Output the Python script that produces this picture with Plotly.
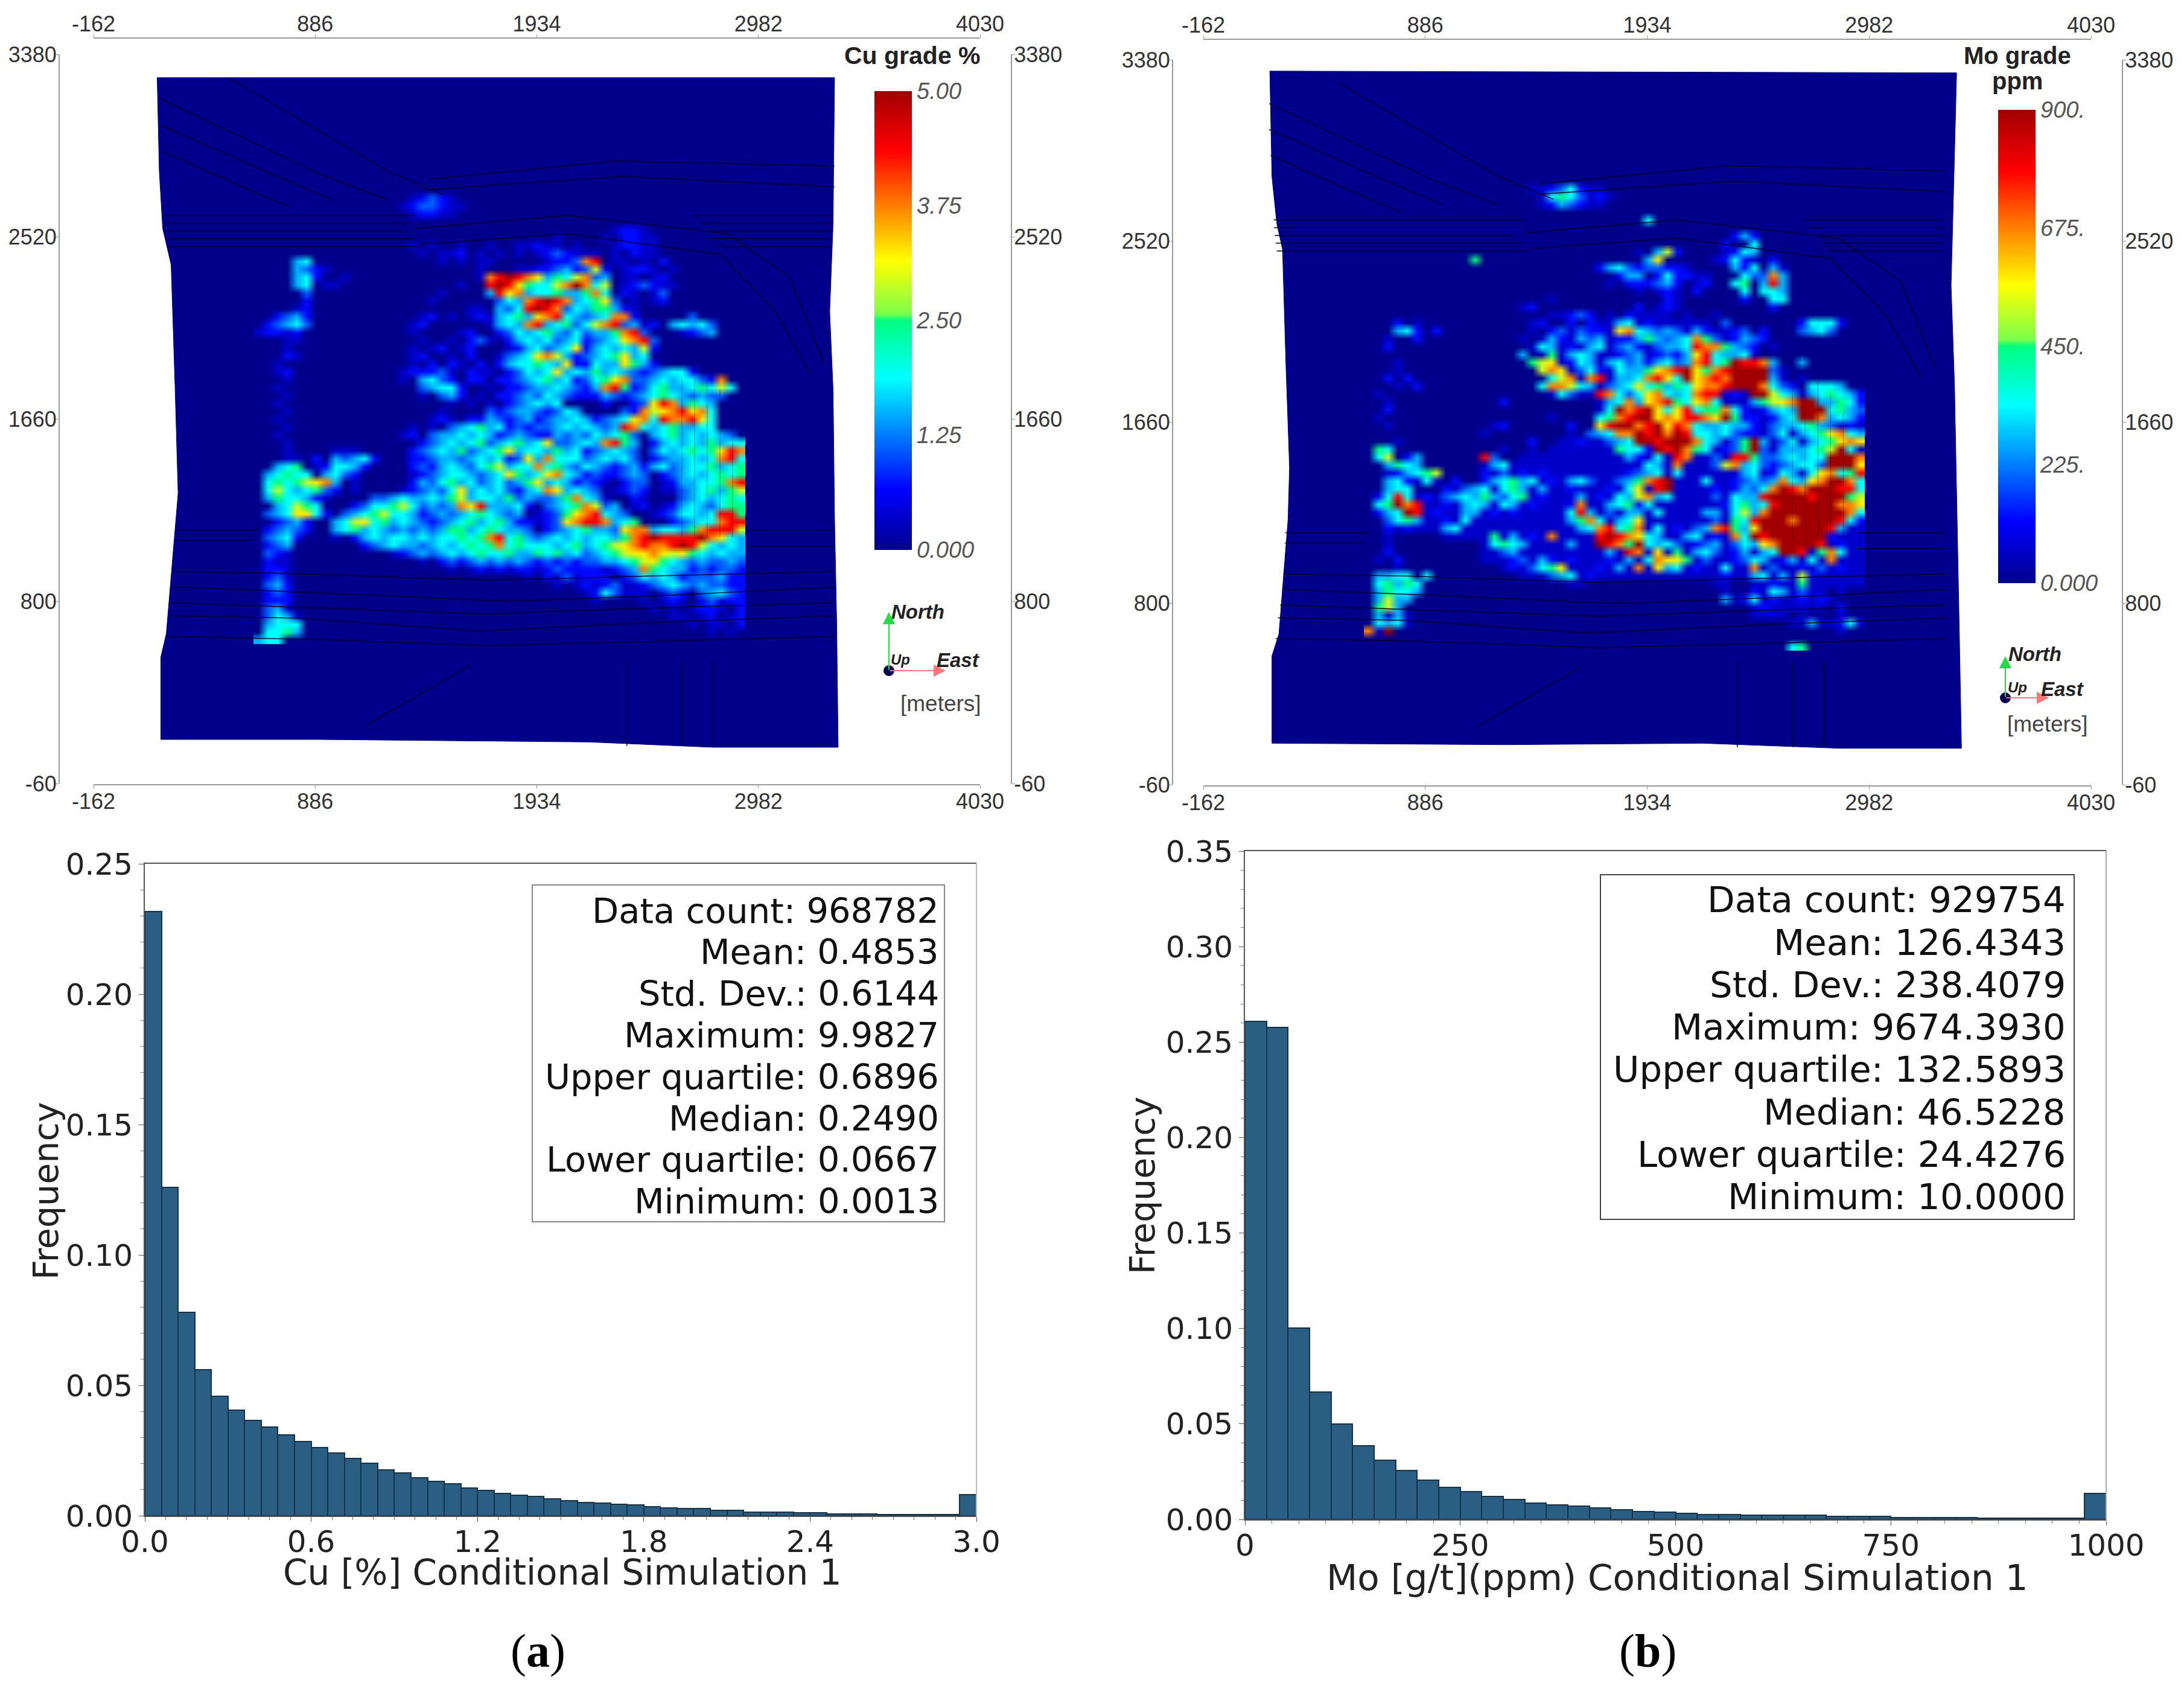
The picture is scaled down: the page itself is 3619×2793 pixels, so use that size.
import plotly.graph_objects as go

W, H = 3619, 2793
PAGE_MARGIN = 8  # the page body sits 8px in from the window corner

# ---- values ----
MAP_X_TICKS = [-162, 886, 1934, 2982, 4030]
MAP_X_LABELS = ["-162", "886", "1934", "2982", "4030"]
MAP_Y_TICKS = [-60, 800, 1660, 2520, 3380]
MAP_Y_LABELS = ["-60", "800", "1660", "2520", "3380"]

CU_OUTLINE_X = [139, 149, 165, 205, 224, 238, 215, 182, 156, 156, 902, 2180, 2769, 3359, 3352, 3342, 3335, 3319, 3335, 3342]
CU_OUTLINE_Y = [3270, 2828, 2559, 2387, 1798, 1308, 1038, 646, 536, 148, 148, 136, 111, 111, 695, 1185, 1798, 2166, 2583, 3270]
MO_OUTLINE_X = [152, 162, 185, 212, 228, 245, 238, 195, 162, 162, 1270, 2195, 2840, 3418, 3408, 3395, 3385, 3369, 3395]
MO_OUTLINE_Y = [3326, 2825, 2603, 2480, 1937, 1444, 1198, 655, 551, 137, 130, 137, 113, 113, 655, 1321, 1839, 2307, 3318]

# bench contours of the pit, None separates the lines
BENCH_X = [149, 935, 1230, None, 149, 706, 968, None, 477, 1230, 1492, None, 156, 542, 771, None,
           170, 1361, None, 172, 1330, None, 175, 1300, None, 180, 1350, None, 185, 1380, None,
           2671, 3335, None, 2700, 3335, None, 2740, 3335, None, 2760, 3330, None, 2790, 3330, None,
           1426, 2311, 3342, None, 1426, 2344, 3342, None,
           1361, 2081, 2835, 3130, 3293, None, 1394, 2081, 2802, 3064, 3228, None,
           225, 620, None, 222, 600, None, 2930, 3340, None, 2930, 3340, None,
           215, 800, 1700, 2500, 3340, None, 210, 900, 1800, 2600, 3345, None,
           200, 850, 1700, 2550, 3345, None, 190, 800, 1650, 2500, 3350, None, 180, 900, 1700, 2450, 3350, None,
           2360, 2360, None, 2622, 2622, None, 2769, 2769, None, 1132, 1623]
BENCH_Y = [3172, 2804, 2693, None, 3049, 2804, 2693, None, 3270, 2828, 2718, None, 2926, 2755, 2657, None,
           2620, 2620, None, 2583, 2583, None, 2546, 2546, None, 2510, 2510, None, 2473, 2473, None,
           2620, 2620, None, 2583, 2583, None, 2546, 2546, None, 2510, 2510, None, 2473, 2473, None,
           2791, 2877, 2853, None, 2742, 2804, 2755, None,
           2559, 2620, 2534, 2330, 1921, None, 2485, 2534, 2436, 2166, 1872, None,
           1136, 1136, None, 1087, 1087, None, 1136, 1136, None, 1060, 1060, None,
           940, 930, 900, 920, 940, None, 867, 840, 800, 830, 867, None,
           793, 770, 740, 770, 793, None, 732, 720, 660, 700, 732, None, 634, 620, 590, 610, 634, None,
           523, 118, None, 523, 118, None, 523, 118, None, 217, 499]
# faint vertical drill-fence lines over the eastern block
FENCE_X = [2620, 2620, None, 2680, 2680, None, 2740, 2740, None, 2800, 2800, None, 2860, 2860]
FENCE_Y = [1850, 1100, None, 1850, 1100, None, 1850, 1100, None, 1800, 1100, None, 1700, 1100]

# grade class per cell, read cell by cell from the two maps ('.' = background grade)
GRADE_CLASSES = {".": 0.0, "0": 0.07, "1": 0.14, "2": 0.22, "3": 0.30, "4": 0.38, "5": 0.50,
                 "6": 0.58, "7": 0.65, "8": 0.75, "9": 0.87, "X": 1.0}

CU_ROWS = [
    "",
    ".... .... .... .... 0121 0...",
    ".... .... .... ...0 1221 00..",
    ".... .... .... .... 0110 0...",
    "",
    ".... .... .... .... .... .... .... .... .... .011 0...",
    ".... .... .... .... .... .... .... ...0 .... 0.11 00..",
    ".... .... .... .... 0.0. .0.. 0..0 0100 .0.. .011 00.. .... ....",
    ".... .... .... .... .0.0 01.0 .0.0 .012 1000 .0.1 00.. .... ....",
    ".... 34.. .... .... ...0 .0.0 0... ..01 1289 .00. 0.1. .... ....",
    ".... 3210 .... .... .... ...0 ...0 0112 3126 1.01 10.0 .... ....",
    ".... 341. .0.. .... .... ...0 89X9 8735 4682 3.00 .01. .... ....",
    ".... 34.0 0... .... .... .0.. 9X97 5446 8X84 6.01 2100 .... ....",
    ".... .2.. .... .... ...0 .... 3978 3445 3358 4.10 .02. .... ....",
    ".... .1.. .... .... ..0. .... .243 89X9 8345 72.0 .01. .... ....",
    ".... 01.. .... .... .... ..00 .324 9X98 2435 5310 .... .... ....",
    "..12 31.. .... .... .01. 0.01 0345 3789 4323 4881 .... .2.. ....",
    ".123 42.. .... .... 01.. .... 0343 8934 5246 8923 01.3 4342 ....",
    "0110 1... .... .... 0... .01. .124 3453 2423 3589 2... 0123 ....",
    "...0 0... .... .... .0.. 0.12 0.13 4342 3412 3478 92.. .... ....",
    "...0 .... .... .... 0.01 .01. ..01 3423 4713 4343 61.. .... ....",
    "...1 0... .... .... 01.. 0.1. .023 4786 3123 4573 4... .... ....",
    "..0. .... .... .... 0.1. 10.1 .134 4543 7114 3375 31.. .... ....",
    "..01 .... .... ...0 1112 0.10 0.12 4347 3435 3432 1234 41.. ....",
    "...0 .... .... ...0 .342 1.11 .112 3453 4124 5782 2343 4421 8...",
    "..0. .... .... .... .234 41.. 0.11 2334 3213 8951 2453 3454 64..",
    "...0 .... .... .... .0.2 31.0 .112 3243 2111 3212 3454 3232 2...",
    "..0. .... .... .... .... 0.0. 0.12 3434 .... 1..1 2798 3543 ....",
    "...0 .... .... .... ...0 .... 2123 3212 43.. ..21 8678 9784 ....",
    "..0. .... .... .... ..01 0.11 3212 3123 3431 2347 8498 8974 ....",
    "...0 .... .... .... 0.0. 2345 3412 1223 4343 2398 4345 3344 ....",
    "..0. .... .... ...0 1.23 3434 3123 2113 2324 3452 .345 3434 32..",
    "...0 .... .... .... .123 4345 2345 3472 2343 8953 .134 3435 3445",
    "...0 .... 000. .... 1234 3523 4573 4435 3412 3432 .243 4545 7989",
    "...0 0.1. 3234 1... 1123 3234 3412 7384 4423 4342 .123 3434 8945",
    "..34 5.01 4431 .... 1213 4324 5634 4845 3243 2123 1342 3445 3456",
    ".345 44.3 421. .... 0123 4432 3475 3478 4312 1123 2.12 3434 5456",
    ".454 5678 3.0. .... 1324 5342 3423 5734 3121 0.12 2.01 3344 5899",
    ".464 3452 1.0. ...0 1232 4734 3421 3487 3432 .012 1.00 2345 3566",
    ".354 4310 .... 2234 3343 5634 4352 3223 5843 0..1 0... 2343 4546",
    "..34 654. ..12 4456 4232 3879 3334 1.23 4586 23.0 1.01 3432 4556",
    ".234 7741 .234 5644 3123 2345 4323 .012 5789 432. .012 4434 9956",
    "..12 31.. 3467 4534 3212 3453 4531 1012 7899 8345 ...1 2344 8996",
    ".123 21.. 3453 4323 2323 5534 5433 2.12 3453 3278 8344 3589 9965",
    ".234 1... 0.13 4344 3434 4545 8945 3234 3434 4358 9X99 99X8 7434",
    ".123 .... ...1 2343 3234 3454 5845 4443 4534 5678 9889 X964 3434",
    ".210 .... .... ..01 2323 4345 4453 3545 3423 4567 7876 7543 4332",
    ".100 .... .... .... .0.1 2123 2323 2121 2122 3345 6754 3232 2321",
    ".110 .... .... .... .... 0.01 0101 1012 1111 0123 8543 3121 2210",
    ".120 .... .... .... .... .... .... 0.10 2011 1.12 4343 1222 3110",
    ".231 .... .... .... .... .... .... ...0 .010 1200 1234 3232 2110",
    ".121 .... .... .... .... .... .... .... ..01 4200 0.12 1.23 4210",
    ".111 .... .... .... .... .... .... .... ...0 .... 0.01 0.12 0110",
    ".230 .... .... .... .... .... .... .... .... .... .0.0 .011 0.10",
    ".243 0... .... .... .... .... .... .... .... .... ...0 0.01 .010",
    ".344 4... .... .... .... .... .... .... .... .... .... .0.0 0.10",
    ".445 3... .... .... .... .... .... .... .... .... .... ...0 .0.0",
    "344.",
]

MO_ROWS = [
    "",
    ".... .... .... .... .001 2410 0...",
    ".... .... .... .... ..04 5420 10..",
    ".... .... .... .... ..01 3210 0...",
    "",
    ".... .... .... .... .... .... .... .4..",
    "",
    ".... .... .... .... .... .... .... .... .... ..13 1...",
    ".... .... .... .... .... .... .... .... .... .1.. 4...",
    ".... .... .... .... .... .... .... 0.36 1... .014 3...",
    ".... .... ...5 .... .... .... .... .37. .... 0141 0.1.",
    ".... .... .... .... .... .... 1342 1221 10.. ..31 4.30",
    ".... .... .... .... .... .... ..13 3.14 1100 ...4 2283 .... ....",
    ".... .... .... .... .... .... .0.1 1123 1.01 ..45 .393 .... ....",
    ".... .... .... .... .... .... .... 0.01 0.1. ...4 .443 .... ....",
    ".... .... .... .... ...0 .... .... ...1 0... ...1 ..44 .... ....",
    ".... .... .... .... 01.. .... .... 1.01 0... .... ..1. .... ....",
    ".... .... .... .... ...0 0121 .0.1 0000 .0.. 0... .... .... ....",
    "...1 .0.. .... .... .01. .1.1 0034 0100 0000 .2.. .... .144 41..",
    "...3 41.1 .... .... .0.1 2021 1078 4323 2031 0012 .1.. .234 2...",
    "..0. .1.. .... .... 0.03 1032 3011 3532 3485 2013 21.. .... ....",
    "..1. .... .... .... .043 0103 4023 1023 3498 8532 1.0. .... ....",
    ".... .... .... .... 3.05 0343 0012 3012 1379 4334 0... .... ....",
    "...0 .... .... .... .567 0143 0342 3134 2389 45X9 983. .3.. ....",
    "...0 .... .... .... ..68 7024 1043 3578 9X75 89XX XX20 .... ....",
    "..1. 1... .... .... ...4 6808 9033 4897 4X78 98XX XX30 .0.. ....",
    "...0 .1.. .... .... ..48 8643 0234 7453 5478 89XX X842 1.44 43..",
    ".0.. .... .... .... ...0 4200 9842 4784 3489 9010 XX64 3034 5431",
    "..0. .... .... ..1. .... .... 0348 3789 5478 4000 3567 8XX3 3541",
    "..1. .... .... .... .... .... 04X8 9X74 7945 5841 0134 3XXX 4532",
    ".0.. .... .... .... ...0 .... 4589 XX78 7998 7X51 1013 4XX8 3431",
    "..0. .... .... .01. .... .1.. 79XX 89X7 9843 3433 1023 3453 2010",
    ".... .... .... 0... .... .0.2 3488 X9X8 X944 3421 1024 0345 7843",
    "...0 .... .... .... .1.. 0010 0234 XX9X XX84 3025 X302 4034 5787",
    ".54. .... .... ..0. .0.0 0000 0054 41X9 X854 0125 X203 3345 6X40",
    ".46. 13.. .... 92.. 0000 0000 0003 1040 9800 2099 5223 4344 XXX8",
    "..35 43.. .... 0340 0000 0000 0000 0430 8000 2683 4212 3442 XXX7",
    "..01 3456 .... 1020 1010 0000 0001 2340 4000 0003 4014 3047 8459",
    "..34 1040 .1.. 1345 3401 0342 0023 589X 0004 0012 3238 4378 XX84",
    "..34 4... 1023 4045 3030 0100 0104 709X 0000 1013 248X 98XX X994",
    ".149 4010 2343 5324 5010 0030 1043 6834 0000 2043 39XX XX9X XX56",
    ".45X 8900 1034 3043 0100 0180 0345 1400 0000 0145 349X XXXX X887",
    ".134 X901 0033 0101 0000 0493 0203 3040 0003 3046 38XX XXXX XX84",
    "..24 5300 1040 0000 0000 0358 4034 7000 0000 2054 9XXX 8XXX X941",
    "..10 1000 3400 0000 0000 0034 8945 8040 1023 8953 7XXX XXXX 9300",
    "..0. .... 0000 0503 0108 0000 9X98 7430 0340 1084 X9XX XXXX 1000",
    "..0. .... .... 0454 3000 0300 X985 X434 2012 3024 378X XXX9 0100",
    "..1. .... .... 0023 0000 0000 0309 8070 5034 2013 034X X905 8400",
    ".0.1 .... .... 0001 2031 0100 0103 0487 7502 0012 4301 3040 8000",
    "...0 .... .... ..01 0245 7000 1030 8073 4010 0400 8020 0102 0100",
    ".334 4.4. .... .... 0002 3401 0000 0000 0000 0100 3403 0610 0000",
    ".453 54.. .... .... .... .00. .... .... .... 00.. 0010 0500 0000",
    ".354 43.. .... .... .... .... .... .... .... .0.. 1043 0200 .0..",
    ".363 3... .... .... .... .... .... .... .... .301 4010 0101 0...",
    ".563 .... .... .... .... .... .... .... .... .... 0100 0000 .1..",
    ".303 0... .... .... .... .... .... .... .... .... 0000 .0.. .0..",
    ".434 0... .... .... .... .... .... .... .... .... .... 0030 0140",
    "80X. .... .... .... .... .... .... .... .... .... .... .... .0..",
    "",
    ".... .... .... .... .... .... .... .... .... .... .... 45..",
]

CU_BARS = [0.2318, 0.126, 0.078, 0.056, 0.0458, 0.0404, 0.0365, 0.034, 0.031, 0.0285,
           0.0262, 0.0241, 0.0219, 0.0202, 0.0177, 0.0165, 0.0146, 0.0132, 0.0122, 0.0107,
           0.0097, 0.0085, 0.0079, 0.0073, 0.0065, 0.0059, 0.0052, 0.0048, 0.0043, 0.0041,
           0.0034, 0.003, 0.0027, 0.0027, 0.0022, 0.002, 0.0015, 0.0015, 0.0015, 0.0011,
           0.0011, 0.0007, 0.0007, 0.0007, 0.0004, 0.0004, 0.0004, 0.0004, 0.0004, 0.0081]
MO_BARS = [0.2608, 0.2577, 0.1002, 0.0666, 0.05, 0.0387, 0.031, 0.0257, 0.0206, 0.0169,
           0.0144, 0.0119, 0.0104, 0.0085, 0.0076, 0.0068, 0.0059, 0.0051, 0.0042, 0.0037,
           0.0032, 0.0026, 0.0026, 0.0023, 0.0021, 0.0021, 0.0021, 0.0016, 0.0016, 0.0016,
           0.0011, 0.0011, 0.0011, 0.0011, 0.0005, 0.0005, 0.0005, 0.0005, 0.0005, 0.0135]

STAT_NAMES = ["Data count", "Mean", "Std. Dev.", "Maximum", "Upper quartile", "Median", "Lower quartile", "Minimum"]
CU_STATS = ["968782", "0.4853", "0.6144", "9.9827", "0.6896", "0.2490", "0.0667", "0.0013"]
MO_STATS = ["929754", "126.4343", "238.4079", "9674.3930", "132.5893", "46.5228", "24.4276", "10.0000"]

JET = [[0, "#00008b"], [0.13, "#0000ff"], [0.375, "#00ffff"], [0.5, "#00ff7f"], [0.515, "#7dff4a"],
       [0.63, "#ffff00"], [0.87, "#ff0000"], [1, "#a00000"]]

NAVY = "#00008b"
BAR_BLUE = "#2a5e83"
TICK_GREY = "#333333"


def fx(px):
    return (px - PAGE_MARGIN) / W


def fy(py):
    return 1 - (py - PAGE_MARGIN) / H


def grid(rows, scale, ncols):
    out = []
    for r in rows:
        r = r.replace(" ", "").ljust(ncols, ".")[:ncols]
        out.append([GRADE_CLASSES[c] * scale for c in r])
    return out


def add_map(fig, n, rows, ncols, zmax, x0, dx, y0, dy, ox, oy, cb_left, cb_top, cb_len, cb_labels):
    xa, ya = f"x{n}" if n > 1 else "x", f"y{n}" if n > 1 else "y"
    # the navy footprint goes in as a shape, a filled scatter would cover the heatmap
    path = "M " + " L ".join(f"{a} {b}" for a, b in zip(ox, oy)) + " Z"
    fig.add_shape(type="path", path=path, xref=xa, yref=ya, layer="below", fillcolor=NAVY,
                  line=dict(color=NAVY, width=1))
    fig.add_trace(go.Heatmap(
        z=grid(rows, zmax, ncols), x0=x0, dx=dx, y0=y0, dy=dy, zmin=0, zmax=zmax, colorscale=JET,
        xaxis=xa, yaxis=ya, zsmooth="fast",
        colorbar=dict(x=fx(cb_left), xanchor="left", y=fy(cb_top), yanchor="top",
                      xref="paper", yref="paper",
                      lenmode="pixels", len=cb_len, thicknessmode="pixels", thickness=62,
                      outlinewidth=0, xpad=0, ypad=0, ticks="",
                      tickvals=[zmax * i / 4 for i in range(5)], ticktext=cb_labels,
                      tickfont=dict(family="Liberation Sans", size=38, color="#555555", style="italic"))))
    fig.add_trace(go.Scatter(x=BENCH_X, y=BENCH_Y, mode="lines", line=dict(color="#000022", width=1.5),
                             xaxis=xa, yaxis=ya, showlegend=False, connectgaps=False))
    fig.add_trace(go.Scatter(x=FENCE_X, y=FENCE_Y, mode="lines", line=dict(color="rgba(0,0,40,0.35)", width=1),
                             xaxis=xa, yaxis=ya, showlegend=False, connectgaps=False))


fig = go.Figure()

add_map(fig, 1, CU_ROWS, 51, 5, 617, 45.6, 2738, -37.2, CU_OUTLINE_X, CU_OUTLINE_Y, 1449, 151, 760,
        ["0.000", "1.25", "2.50", "3.75", "5.00"])
add_map(fig, 3, MO_ROWS, 52, 900, 619, 45.5, 2806, -37.46, MO_OUTLINE_X, MO_OUTLINE_Y, 3311, 182, 784,
        ["0.000", "225.", "450.", "675.", "900."])

# empty traces so the top and right axes of the maps get drawn
fig.add_trace(go.Scatter(x=[], y=[], xaxis="x2", yaxis="y2", showlegend=False))
fig.add_trace(go.Scatter(x=[], y=[], xaxis="x4", yaxis="y4", showlegend=False))

fig.add_trace(go.Bar(x=[(i + 0.5) * 0.06 for i in range(len(CU_BARS))], y=CU_BARS, width=0.06,
                     marker=dict(color=BAR_BLUE, line=dict(color="#14324a", width=2)),
                     xaxis="x5", yaxis="y5", showlegend=False))
fig.add_trace(go.Bar(x=[(i + 0.5) * 25 for i in range(len(MO_BARS))], y=MO_BARS, width=25,
                     marker=dict(color=BAR_BLUE, line=dict(color="#14324a", width=2)),
                     xaxis="x6", yaxis="y6", showlegend=False))


def map_axis(domain, rng, tickvals, ticktext, **kw):
    return dict(domain=domain, range=rng, tickmode="array", tickvals=tickvals, ticktext=ticktext, showgrid=False,
                zeroline=False, showline=True, linecolor="#999999", linewidth=2, ticks="outside",
                ticklen=5, tickcolor="#999999", ticklabelstandoff=-9,
                tickfont=dict(family="Liberation Sans", size=36, color=TICK_GREY), anchor="free", **kw)


def hist_axis(domain, rng, dtick, fmt, minor, anchor, **kw):
    return dict(domain=domain, range=rng, dtick=dtick, tick0=0, tickformat=fmt, showgrid=False, zeroline=False,
                showline=True, linecolor="#555555", linewidth=2, ticks="outside", ticklen=8,
                tickcolor="#555555", minor=dict(dtick=minor, ticks="outside", ticklen=5, tickcolor="#777777"),
                tickfont=dict(family="DejaVu Sans", size=50, color="#222222"),
                anchor=anchor, **kw)


XD1, YD1 = [fx(155), fx(1624)], [fy(1298), fy(90)]
XD2, YD2 = [fx(1994), fx(3465)], [fy(1300), fy(99)]
MX, MY = [-162, 4030], [-60, 3380]

fig.update_layout(
    width=W, height=H, margin=dict(l=0, r=0, t=0, b=0, autoexpand=False), autosize=False,
    paper_bgcolor="white", plot_bgcolor="white", showlegend=False, bargap=0,
    xaxis=map_axis(XD1, MX, MAP_X_TICKS, MAP_X_LABELS, position=fy(1300), side="bottom"),
    yaxis=map_axis(YD1, MY, MAP_Y_TICKS, MAP_Y_LABELS, position=fx(98), side="left"),
    xaxis2=map_axis(XD1, MX, MAP_X_TICKS, MAP_X_LABELS, position=fy(63), side="top", overlaying="x"),
    yaxis2=map_axis(YD1, MY, MAP_Y_TICKS, MAP_Y_LABELS, position=fx(1676), side="right", overlaying="y"),
    xaxis3=map_axis(XD2, MX, MAP_X_TICKS, MAP_X_LABELS, position=fy(1302), side="bottom"),
    yaxis3=map_axis(YD2, MY, MAP_Y_TICKS, MAP_Y_LABELS, position=fx(1943), side="left"),
    xaxis4=map_axis(XD2, MX, MAP_X_TICKS, MAP_X_LABELS, position=fy(65), side="top", overlaying="x3"),
    yaxis4=map_axis(YD2, MY, MAP_Y_TICKS, MAP_Y_LABELS, position=fx(3517), side="right", overlaying="y3"),
    xaxis5=hist_axis([fx(240), fx(1618)], [0, 3], 0.6, ".1f", 0.075, "y5", mirror=True, ticklabelstandoff=-10),
    yaxis5=hist_axis([fy(2511), fy(1431)], [0, 0.25], 0.05, ".2f", 0.01, "x5"),
    xaxis6=hist_axis([fx(2063), fx(3490)], [0, 1000], 250, "d", 31.25, "y6", mirror=True, ticklabelstandoff=-10),
    yaxis6=hist_axis([fy(2517), fy(1410)], [0, 0.35], 0.05, ".2f", 0.01, "x6"),
)


def paper_line(x0, y0, x1, y1, color, width=2):
    fig.add_shape(type="line", xref="paper", yref="paper", x0=fx(x0), y0=fy(y0), x1=fx(x1), y1=fy(y1),
                  line=dict(color=color, width=width))


def paper_box(x0, y0, x1, y1, color):
    fig.add_shape(type="rect", xref="paper", yref="paper", x0=fx(x0), y0=fy(y0), x1=fx(x1), y1=fy(y1),
                  line=dict(color=color, width=2))


def label(px, py, text, size, family="Liberation Sans", color="#222222", xanchor="center", **kw):
    fig.add_annotation(xref="paper", yref="paper", x=fx(px), y=fy(py), text=text, showarrow=False,
                       xanchor=xanchor, yanchor="middle",
                       font=dict(family=family, size=size, color=color), **kw)


def compass(ox, oy, north_y, east_x, north_xy, up_xy, east_xy, meters_xy):
    fig.add_annotation(xref="paper", yref="paper", x=fx(ox), y=fy(north_y), ax=0, ay=oy - north_y,
                       axref="pixel", ayref="pixel", text="", arrowcolor="#22dd44", arrowwidth=2,
                       arrowhead=2, arrowsize=2)
    fig.add_annotation(xref="paper", yref="paper", x=fx(east_x), y=fy(oy), ax=ox - east_x, ay=0,
                       axref="pixel", ayref="pixel", text="", arrowcolor="#ff7777", arrowwidth=2,
                       arrowhead=2, arrowsize=2)
    fig.add_shape(type="circle", xref="paper", yref="paper", x0=fx(ox - 8), x1=fx(ox + 8),
                  y0=fy(oy + 8), y1=fy(oy - 8), fillcolor="#000050", line=dict(color="#000050"))
    label(north_xy[0], north_xy[1], "<b><i>North</i></b>", 33)
    label(up_xy[0], up_xy[1], "<b><i>Up</i></b>", 24)
    label(east_xy[0], east_xy[1], "<b><i>East</i></b>", 33)
    label(meters_xy[0], meters_xy[1], "[meters]", 37, color="#444444")


def stats_box(names, values, right, first_y, step, size):
    for i, (n, v) in enumerate(zip(names, values)):
        label(right, first_y + i * step, f"{n}: {v}", size, "DejaVu Sans", "#111111", xanchor="right", align="right")


label(1512, 92, "<b>Cu grade %</b>", 41)
label(3343, 92, "<b>Mo grade</b>", 40)
label(3343, 134, "<b>ppm</b>", 40)
compass(1473, 1111, 1014, 1567, (1521, 1014), (1492, 1092), (1588, 1093), (1559, 1165))
compass(3323, 1156, 1087, 3395, (3372, 1083), (3343, 1138), (3418, 1141), (3393, 1199))

# right border of the histograms is lighter than the rest
paper_line(1618, 1431, 1618, 2511, "#bbbbbb")
paper_line(3490, 1410, 3490, 2517, "#aaaaaa")

paper_box(882, 1466, 1565, 2024, "#888888")
paper_box(2652, 1449, 3437, 2020, "#444444")
stats_box(STAT_NAMES, CU_STATS, 1558, 1509, 68.8, 57.5)
stats_box(STAT_NAMES, MO_STATS, 3425, 1491, 70.2, 59.4)

label(932, 2605, "Cu [%] Conditional Simulation 1", 58, "DejaVu Sans")
label(2779, 2613, "Mo [g/t](ppm) Conditional Simulation 1", 59.5, "DejaVu Sans")
label(76, 1973, "Frequency", 57, "DejaVu Sans", textangle=-90)
label(1893, 1964, "Frequency", 57, "DejaVu Sans", textangle=-90)

label(891, 2734, "(<b>a</b>)", 78, "Liberation Serif", "black")
label(2730, 2734, "(<b>b</b>)", 78, "Liberation Serif", "black")

fig.write_html("out.html")
